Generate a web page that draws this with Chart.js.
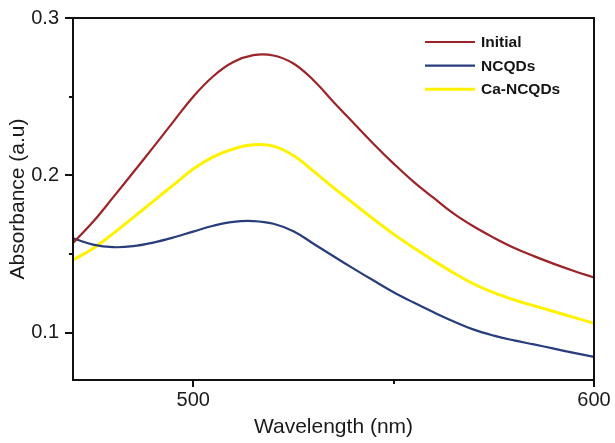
<!DOCTYPE html>
<html>
<head>
<meta charset="utf-8">
<title>Absorbance spectra</title>
<script src="https://cdn.jsdelivr.net/npm/chart.js@4"></script>
<style>
  html, body { margin: 0; padding: 0; background: #fff; }
  #wrap { width: 615px; height: 443px; }
</style>
</head>
<body>
<div id="wrap"><canvas id="absChart" width="615" height="443"></canvas></div>
<script>
// ========== Spectra data ==========
const wavelengths = [470, 475, 480, 485, 490, 495, 500, 505, 510, 515, 520, 525, 530, 535,
                     540, 545, 550, 555, 560, 565, 570, 575, 580, 585, 590, 595, 600];

const initialAbs = [0.1570, 0.1705, 0.1860, 0.2018, 0.2178, 0.2340, 0.2500, 0.2630, 0.2720, 0.2764,
                    0.2762, 0.2711, 0.2605, 0.2467, 0.2333, 0.2200, 0.2075, 0.1959, 0.1857, 0.1757,
                    0.1675, 0.1604, 0.1540, 0.1487, 0.1438, 0.1393, 0.1351];

const ncqdAbs = [0.1600, 0.1560, 0.1544, 0.1550, 0.1573, 0.1605, 0.1643, 0.1680, 0.1705, 0.1710,
                 0.1693, 0.1645, 0.1566, 0.1486, 0.1408, 0.1332, 0.1258, 0.1192, 0.1130, 0.1072,
                 0.1020, 0.0982, 0.0952, 0.0926, 0.0899, 0.0872, 0.0847];

const caNcqdAbs = [0.1463, 0.1535, 0.1630, 0.1732, 0.1835, 0.1938, 0.2040, 0.2118, 0.2168, 0.2194,
                   0.2186, 0.2126, 0.2027, 0.1922, 0.1822, 0.1722, 0.1627, 0.1540, 0.1458, 0.1380,
                   0.1310, 0.1255, 0.1210, 0.1172, 0.1135, 0.1098, 0.1060];

const seriesNames = ['Initial', 'NCQDs', 'Ca-NCQDs'];

// axis ticks
const xMajorTicks = [500, 600];
const xMinorTicks = [550];
const yMajorTicks = [0.1, 0.2, 0.3];
const yMinorTicks = [0.15, 0.25];

const FONT = '"Liberation Sans", Arial, sans-serif';

function toPoints(values) {
    return values.map((v, i) => ({ x: wavelengths[i], y: v }));
}

// ========== Frame, tick marks and legend ==========
const framePlugin = {
    id: 'frame',
    afterDatasetsDraw(chart) {
        const { ctx, chartArea: a, scales } = chart;
        ctx.save();
        ctx.strokeStyle = '#111';
        ctx.lineWidth = 2;
        ctx.strokeRect(a.left, a.top, a.right - a.left, a.bottom - a.top);

        ctx.beginPath();
        xMajorTicks.forEach(v => {
            const px = Math.round(scales.x.getPixelForValue(v));
            ctx.moveTo(px, a.bottom); ctx.lineTo(px, a.bottom + 7);
        });
        xMinorTicks.forEach(v => {
            const px = Math.round(scales.x.getPixelForValue(v));
            ctx.moveTo(px, a.bottom); ctx.lineTo(px, a.bottom + 4);
        });
        yMajorTicks.forEach(v => {
            const py = Math.round(scales.y.getPixelForValue(v));
            ctx.moveTo(a.left, py); ctx.lineTo(a.left - 8, py);
        });
        yMinorTicks.forEach(v => {
            const py = Math.round(scales.y.getPixelForValue(v));
            ctx.moveTo(a.left, py); ctx.lineTo(a.left - 4, py);
        });
        ctx.stroke();
        ctx.restore();
    },
    afterDraw(chart) {
        const { ctx, chartArea: a } = chart;
        ctx.save();
        ctx.font = 'bold 15.5px ' + FONT;
        ctx.textBaseline = 'middle';
        ctx.fillStyle = '#141414';
        chart.data.datasets.forEach((ds, i) => {
            const y = a.top + 24 + i * 23.6;
            const x0 = a.right - 169;
            ctx.beginPath();
            ctx.strokeStyle = ds.borderColor;
            ctx.lineWidth = ds.borderWidth;
            ctx.moveTo(x0, y); ctx.lineTo(x0 + 50, y);
            ctx.stroke();
            ctx.fillText(ds.label, x0 + 56, y + 1);
        });
        ctx.restore();
    }
};

// ========== Chart ==========
function drawChart() {
    const ctx = document.getElementById('absChart').getContext('2d');
    new Chart(ctx, {
        type: 'line',
        data: {
            datasets: [
                { label: seriesNames[0], data: toPoints(initialAbs), borderColor: '#9c2327', borderWidth: 2.2 },
                { label: seriesNames[1], data: toPoints(ncqdAbs), borderColor: '#283d7c', borderWidth: 2.2 },
                { label: seriesNames[2], data: toPoints(caNcqdAbs), borderColor: '#fff200', borderWidth: 3 }
            ]
        },
        options: {
            responsive: false,
            animation: false,
            events: [],
            elements: {
                point: { radius: 0 },
                line: { tension: 0.4, fill: false }
            },
            layout: { padding: { top: 16, right: 21, left: 0, bottom: 0 } },
            plugins: {
                legend: { display: false },
                tooltip: { enabled: false }
            },
            scales: {
                x: {
                    type: 'linear',
                    min: 470,
                    max: 600,
                    afterBuildTicks: (scale) => { scale.ticks = xMajorTicks.map(v => ({ value: v })); },
                    afterFit: (scale) => { scale.height = 63; },
                    grid: { display: false, drawTicks: true, tickLength: 7 },
                    border: { display: false },
                    ticks: {
                        autoSkip: false,
                        maxRotation: 0,
                        padding: 1,
                        color: '#1a1a1a',
                        font: { family: FONT, size: 20 },
                        callback: (v) => String(v)
                    },
                    title: {
                        display: true,
                        text: 'Wavelength (nm)',
                        color: '#1a1a1a',
                        font: { family: FONT, size: 21 },
                        padding: { top: 0, bottom: 3 }
                    }
                },
                y: {
                    min: 0.07,
                    max: 0.3,
                    afterBuildTicks: (scale) => { scale.ticks = yMajorTicks.map(v => ({ value: v })); },
                    afterFit: (scale) => { scale.width = 73; },
                    grid: { display: false, drawTicks: true, tickLength: 8 },
                    border: { display: false },
                    ticks: {
                        autoSkip: false,
                        padding: 6,
                        color: '#1a1a1a',
                        font: { family: FONT, size: 20 },
                        callback: (v) => v.toFixed(1)
                    },
                    title: {
                        display: true,
                        text: 'Absorbance (a.u)',
                        color: '#1a1a1a',
                        font: { family: FONT, size: 21 },
                        padding: { top: 6, bottom: 0 }
                    }
                }
            }
        },
        plugins: [framePlugin]
    });
}

document.addEventListener('DOMContentLoaded', drawChart);
</script>
</body>
</html>
